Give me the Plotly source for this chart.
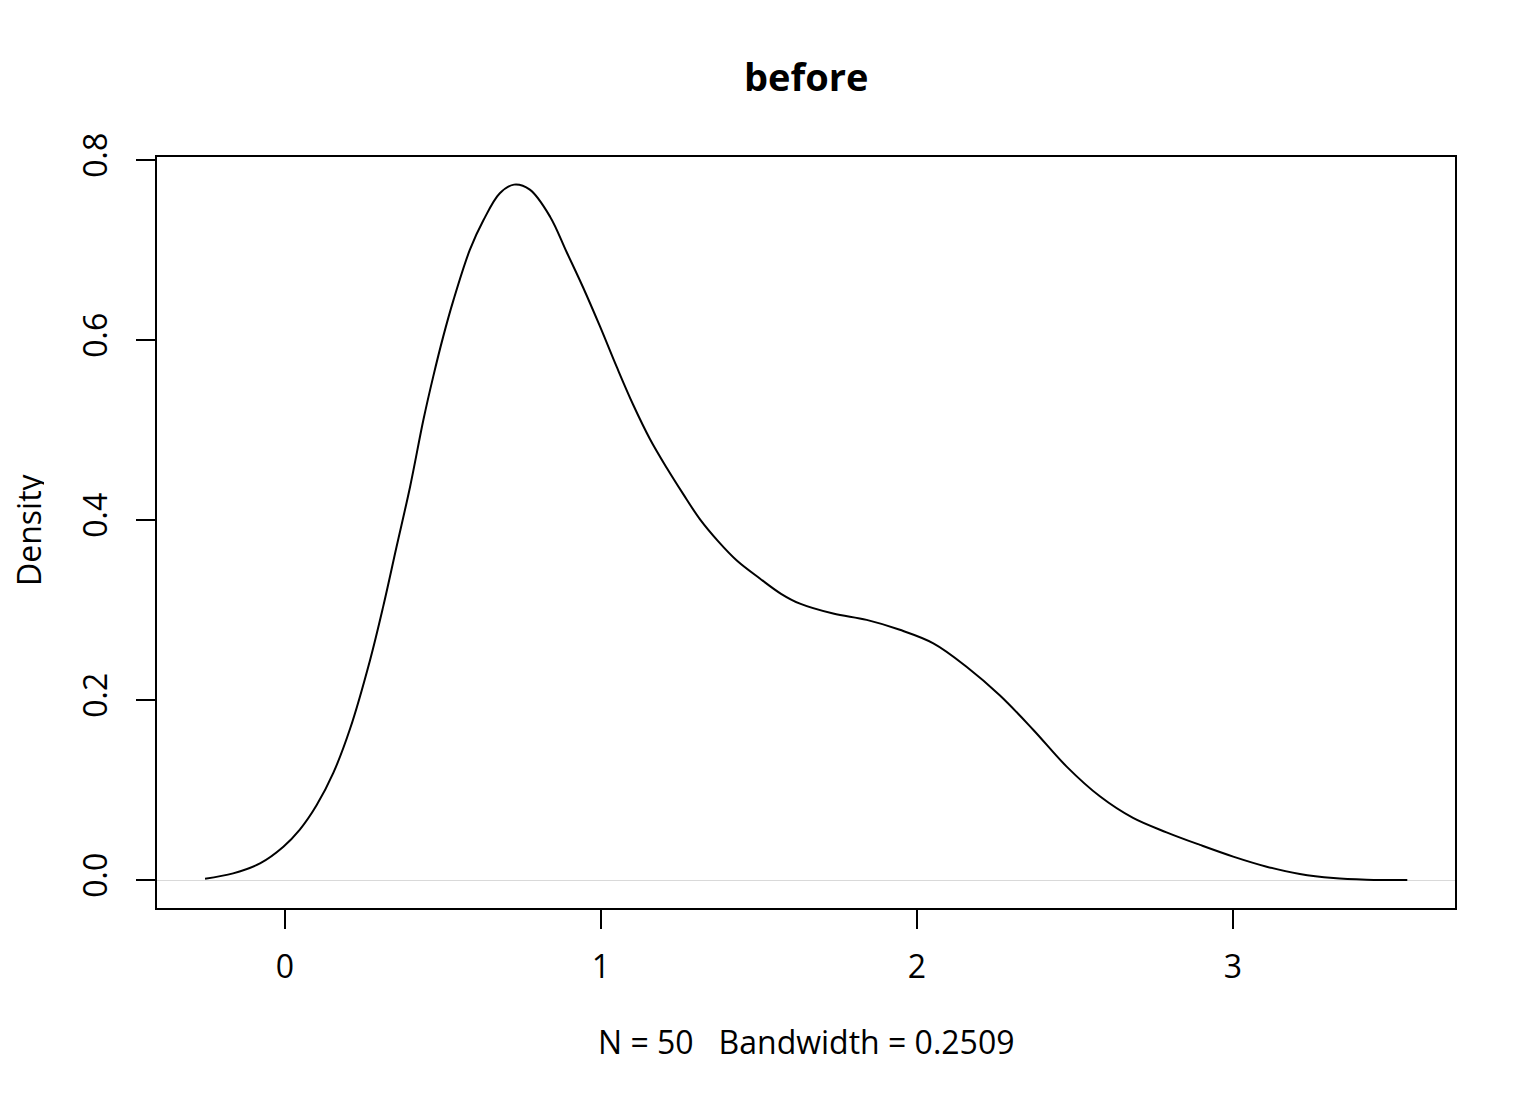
import plotly.graph_objects as go

# Density estimate values
density_x = [-0.253, -0.164, -0.079, -0.005, 0.047, 0.100, 0.153, 0.206, 0.269, 0.311,
             0.353, 0.396, 0.438, 0.469, 0.501, 0.533, 0.585, 0.628, 0.680, 0.725,
             0.775, 0.839, 0.891, 0.944, 0.997, 1.050, 1.102, 1.155, 1.208, 1.260,
             1.313, 1.372, 1.430, 1.503, 1.570, 1.630, 1.735, 1.841, 1.946, 2.052,
             2.157, 2.263, 2.368, 2.474, 2.579, 2.684, 2.790, 2.896, 3.001, 3.107,
             3.212, 3.318, 3.423, 3.552]
density_y = [0.0015, 0.0074, 0.0185, 0.037, 0.056, 0.083, 0.119, 0.168, 0.244, 0.304,
             0.370, 0.437, 0.511, 0.559, 0.604, 0.644, 0.700, 0.733, 0.763, 0.7726,
             0.767, 0.737, 0.698, 0.658, 0.615, 0.570, 0.528, 0.490, 0.458, 0.429,
             0.401, 0.376, 0.355, 0.335, 0.318, 0.307, 0.296, 0.289, 0.278, 0.263,
             0.237, 0.205, 0.167, 0.126, 0.093, 0.069, 0.053, 0.039, 0.026, 0.0148,
             0.0067, 0.0022, 0.0004, 0.0]

x_ticks = [0, 1, 2, 3]
x_tick_labels = ["0", "1", "2", "3"]
y_ticks = [0.0, 0.2, 0.4, 0.6, 0.8]
y_tick_labels = ["0.0", "0.2", "0.4", "0.6", "0.8"]

title_text = "before"
x_label = "N = 50\u00a0\u00a0\u00a0Bandwidth = 0.2509"
y_label = "Density"

FONT = "Open Sans"
FS = 32

# page body has an 8px margin; plot area targets page px 157..1455 x 157..908
W, H = 1520, 1088
L, T = 149, 149
R = W - (1455 - 8)
B = H - (908 - 8)
PW, PH = 1298, 751

fig = go.Figure()
fig.add_trace(go.Scatter(
    x=density_x, y=density_y, mode="lines",
    line=dict(color="black", width=2, shape="spline", smoothing=1.0),
    hoverinfo="skip", showlegend=False,
))

fig.update_layout(
    width=W, height=H,
    margin=dict(l=L, r=R, t=T, b=B, pad=0),
    paper_bgcolor="white", plot_bgcolor="white",
    font=dict(family=FONT, size=FS, color="black"),
    showlegend=False,
    annotations=[
        dict(text="<b>" + title_text + "</b>", x=(806 - 157) / PW, y=1 + (157 - 76) / PH,
             xref="paper", yref="paper", xanchor="center", yanchor="middle",
             showarrow=False, font=dict(family=FONT, size=38, color="black")),
        dict(text=x_label, x=(806 - 157) / PW, y=(908 - 1041) / PH,
             xref="paper", yref="paper", xanchor="center", yanchor="middle",
             showarrow=False, font=dict(family=FONT, size=FS, color="black")),
        dict(text=y_label, x=(28 - 157) / PW, y=(908 - 530) / PH,
             xref="paper", yref="paper", xanchor="center", yanchor="middle",
             textangle=-90, showarrow=False, height=32, borderpad=0,
             font=dict(family=FONT, size=FS, color="black")),
    ],
)

fig.update_xaxes(
    range=[-0.405, 3.703], tickmode="array", tickvals=x_ticks, ticktext=x_tick_labels,
    ticks="outside", ticklen=19, tickwidth=2, tickcolor="black",
    showline=True, mirror=True, linecolor="black", linewidth=2,
    showgrid=False, zeroline=False, ticklabelstandoff=11,
    tickfont=dict(family=FONT, size=FS, color="black"),
)
fig.update_yaxes(
    range=[-0.0311, 0.8033], tickmode="array", tickvals=y_ticks, ticktext=y_tick_labels,
    ticks="outside", ticklen=19, tickwidth=2, tickcolor="black", tickangle=-90,
    showline=True, mirror=True, linecolor="black", linewidth=2,
    showgrid=False, zeroline=True, zerolinecolor="#d9d9d9", zerolinewidth=1,
    ticklabelstandoff=16,
    tickfont=dict(family=FONT, size=FS, color="black"),
)

fig.write_html("out.html")
